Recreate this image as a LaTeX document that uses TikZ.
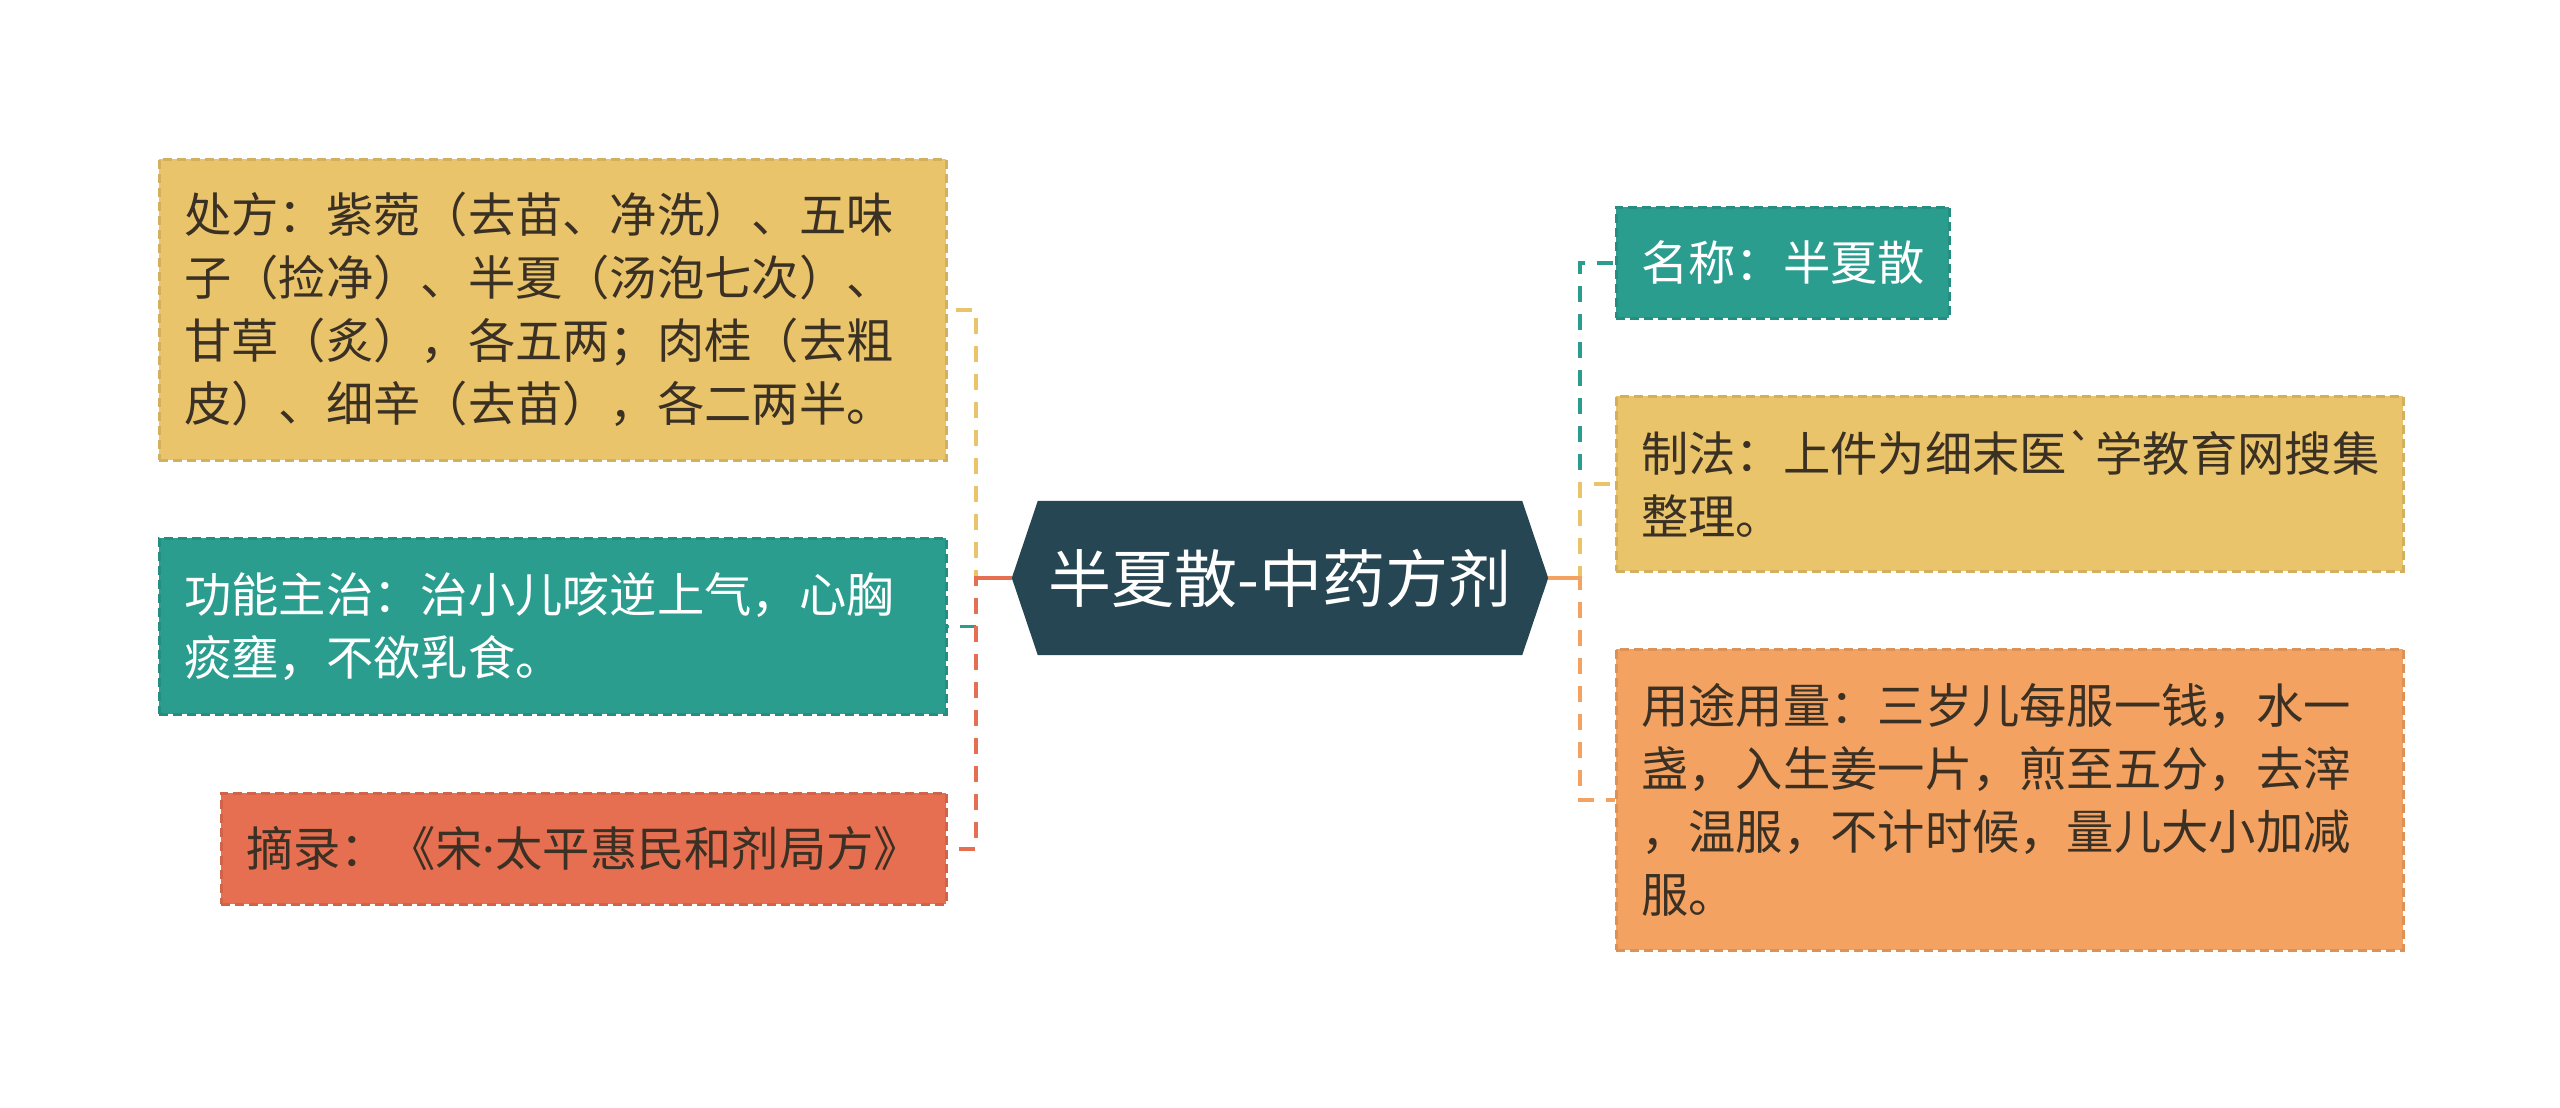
\documentclass[tikz,border=0pt]{standalone}
\usepackage{fontspec}
\setmainfont{Noto Sans CJK SC}
\newfontfamily\plaincjk{Noto Sans CJK SC}
\newfontfamily\latinf{Noto Sans}
\usetikzlibrary{backgrounds,calc}
\definecolor{cyel}{HTML}{E9C46A}
\definecolor{cteal}{HTML}{2A9D8F}
\definecolor{cred}{HTML}{E76F51}
\definecolor{corg}{HTML}{F4A261}
\definecolor{cdark}{HTML}{264653}
\definecolor{ctxt}{HTML}{3A3024}
\begin{document}
\begin{tikzpicture}[x=1pt,y=-1pt,
  box/.style={anchor=north west, inner xsep=25pt, inner ysep=0pt, align=left,
    font=\fontsize{47.3}{63}\selectfont, line width=2.5pt, dash pattern=on 9pt off 5pt},
  ybox/.style={box, fill=cyel, draw=cyel!90!black, text=ctxt},
  tbox/.style={box, fill=cteal, draw=cteal!90!black, text=white},
  rbox/.style={box, fill=cred, draw=cred!90!black, text=ctxt},
  obox/.style={box, fill=corg, draw=corg!90!black, text=ctxt},
  conn/.style={line width=3.5pt, dash pattern=on 16pt off 12pt},
  solidconn/.style={line width=3.5pt},
]
\useasboundingbox (0,0) rectangle (2560,1108);

% center
\node[font=\fontsize{63}{75}\selectfont, text=white, minimum width=484pt, minimum height=154pt, inner sep=0pt] (c) at (1280,578) {半夏散-中药方剂};
\begin{scope}[on background layer]
\fill[cdark] (c.north west) -- (c.north east) -- ([xshift=26pt]c.east) -- (c.south east) -- (c.south west) -- ([xshift=-26pt]c.west) -- cycle;
\end{scope}
\coordinate (cw) at ([xshift=-26pt]c.west);
\coordinate (ce) at ([xshift=26pt]c.east);
\coordinate (tl) at (976,578);
\coordinate (tr) at (1580,578);

% left
\node[ybox, text width=737pt, minimum height=301pt] (cf) at (158,158) {处方：紫菀（去苗、净洗）、五味\\子（捡净）、半夏（汤泡七次）、\\甘草（炙），各五两；肉桂（去粗\\皮）、细辛（去苗），各二两半。};
\node[tbox, text width=737pt, minimum height=176pt] (gn) at (158,537) {功能主治：治小儿咳逆上气，心胸\\痰壅，不欲乳食。};
\node[rbox, text width=675pt, minimum height=111pt] (zl) at (220,792) {摘录：《宋{\latinf ·}太平惠民和剂局方》};

% right
\node[tbox, text width=283pt, minimum height=111pt] (mc) at (1615,206) {名称：半夏散};
\node[ybox, text width=737pt, minimum height=175pt] (zf) at (1615,395) {制法：上件为细末医{\plaincjk\char96}学教育网搜集\\整理。};
\node[obox, text width=737pt, minimum height=301pt] (yt) at (1615,648) {用途用量：三岁儿每服一钱，水一\\盏，入生姜一片，煎至五分，去滓\\，温服，不计时候，量儿大小加减\\服。};

% connectors left
\draw[conn, cyel] (cw) -- (tl) |- (cf.east);
\draw[conn, cteal] (cw) -- (tl) |- (gn.east);
\draw[conn, cred] (cw) -- (tl) |- (zl.east);
\draw[solidconn, cred] (cw) -- (tl);

% connectors right
\draw[conn, cteal] (ce) -- (tr) |- (mc.west);
\draw[conn, cyel] (ce) -- (tr) |- (zf.west);
\draw[conn, corg] (ce) -- (tr) |- (yt.west);
\draw[solidconn, corg] (ce) -- (tr);
\end{tikzpicture}
\end{document}
